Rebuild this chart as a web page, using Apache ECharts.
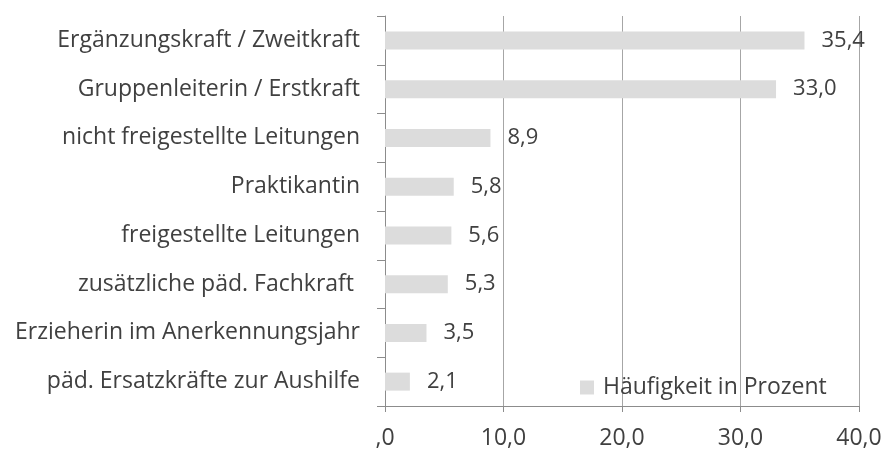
<!DOCTYPE html>
<html>
<head>
<meta charset="utf-8">
<script src="https://cdn.jsdelivr.net/npm/echarts@6/dist/echarts.min.js"></script>
<style>html,body{margin:0;padding:0;background:#fff;}#chart{width:886px;height:450px;}</style>
</head>
<body>
<div id="chart"></div>
<script>
const categories = [
  "Ergänzungskraft / Zweitkraft",
  "Gruppenleiterin / Erstkraft",
  "nicht freigestellte Leitungen",
  "Praktikantin",
  "freigestellte Leitungen",
  "zusätzliche päd. Fachkraft ",
  "Erzieherin im Anerkennungsjahr",
  "päd. Ersatzkräfte zur Aushilfe"
];
const values = [35.4, 33.0, 8.9, 5.8, 5.6, 5.3, 3.5, 2.1];
const xTickLabels = [",0", "10,0", "20,0", "30,0", "40,0"];
const seriesName = "Häufigkeit in Prozent";

const FONT = "'Open Sans', 'Noto Sans', sans-serif";
const chart = echarts.init(document.getElementById('chart'));
chart.setOption({
  animation: false,
  backgroundColor: '#ffffff',
  textStyle: { fontFamily: FONT },
  grid: { left: 385, right: 27, top: 16, bottom: 44, containLabel: false },
  legend: {
    data: [seriesName],
    left: 575, top: 371,
    icon: 'rect', itemWidth: 14, itemHeight: 14, itemGap: 0,
    textStyle: { fontSize: 23, color: '#404040', fontFamily: FONT, padding: [0,0,0,4] }
  },
  xAxis: {
    type: 'value', min: 0, max: 40, interval: 10,
    axisLine: { show: true, lineStyle: { color: '#8c8c8c', width: 1 } },
    axisTick: { show: true, length: 6, lineStyle: { color: '#8c8c8c' } },
    splitLine: { show: true, lineStyle: { color: '#a6a6a6', width: 1 } },
    axisLabel: {
      fontSize: 23, color: '#404040', margin: 21, fontFamily: FONT,
      formatter: function (v) { return xTickLabels[Math.round(v / 10)]; }
    }
  },
  yAxis: {
    type: 'category', data: categories, inverse: true,
    axisLine: { show: true, lineStyle: { color: '#8c8c8c', width: 1 } },
    axisTick: { show: true, length: 8, alignWithLabel: false, lineStyle: { color: '#8c8c8c' } },
    axisLabel: { fontSize: 23, color: '#404040', margin: 25, fontFamily: FONT }
  },
  series: [{
    name: seriesName, type: 'bar', data: values, barWidth: 18,
    itemStyle: { color: '#dcdcdc' },
    label: {
      show: true, position: 'right', distance: 17, fontSize: 22, color: '#404040', fontFamily: FONT,
      formatter: function (p) { return p.value.toFixed(1).replace('.', ','); }
    }
  }]
});
</script>
</body>
</html>
